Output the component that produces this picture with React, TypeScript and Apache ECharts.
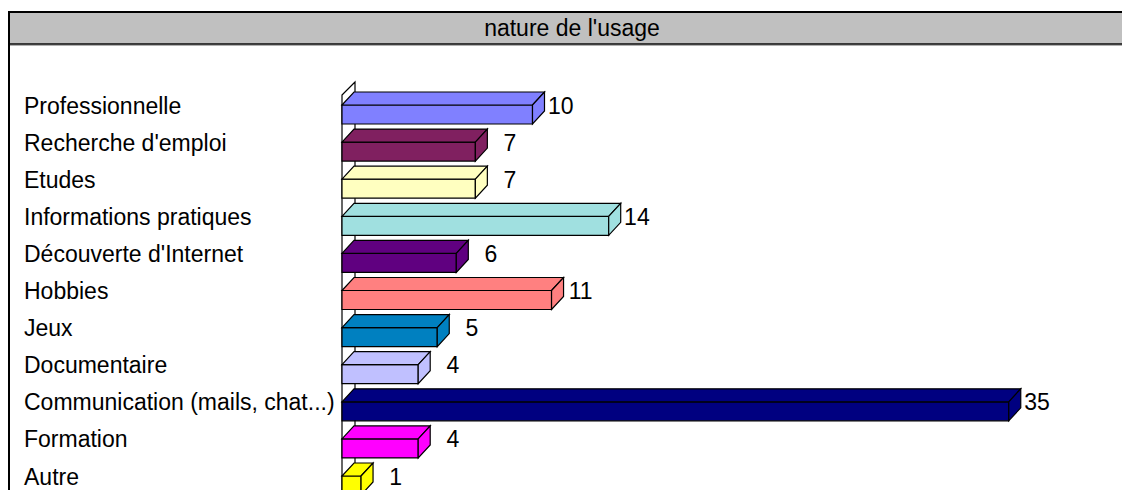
import React, { useEffect, useRef } from "react";
import * as echarts from "echarts";

const chartTitle = "nature de l'usage";
const categories = [
  "Professionnelle",
  "Recherche d'emploi",
  "Etudes",
  "Informations pratiques",
  "Découverte d'Internet",
  "Hobbies",
  "Jeux",
  "Documentaire",
  "Communication (mails, chat...)",
  "Formation",
  "Autre",
];
const values = [10, 7, 7, 14, 6, 11, 5, 4, 35, 4, 1];
const barColors = [
  "#8080FF",
  "#802060",
  "#FFFFC0",
  "#A0E0E0",
  "#600080",
  "#FF8080",
  "#0080C0",
  "#C0C0FF",
  "#000080",
  "#FF00FF",
  "#FFFF00",
];

const FONT = "'Liberation Sans', Arial, sans-serif";
const DX = 12;
const DY = 13;
const FRONT_H = 18.5;
const CHART_H = 520;

export default function App() {
  const ref = useRef<HTMLDivElement>(null);

  useEffect(() => {
    if (!ref.current) return;
    const chart = echarts.init(ref.current, undefined, { renderer: "svg" });

    const barData = values.map((v, i) => [v, i]);
    const gridTop = 86.95;
    const gridHeight = 408.1;

    const option: any = {
      animation: false,
      backgroundColor: "#ffffff",
      grid: {
        left: 342,
        right: 18,
        top: gridTop,
        bottom: CHART_H - gridTop - gridHeight,
        containLabel: false,
      },
      xAxis: {
        type: "value",
        min: 0,
        max: 40,
        show: false,
      },
      yAxis: {
        type: "category",
        inverse: true,
        data: categories,
        axisLine: { show: false },
        axisTick: { show: false },
        splitLine: { show: false },
        axisLabel: {
          align: "left",
          margin: 318,
          fontSize: 23,
          fontFamily: FONT,
          color: "#000000",
        },
      },
      graphic: [
        {
          type: "rect",
          shape: { x: 9, y: 12, width: 1200, height: 600 },
          style: { fill: "none", stroke: "#000000", lineWidth: 2 },
          silent: true,
        },
        {
          type: "rect",
          shape: { x: 10, y: 13, width: 1200, height: 30.5 },
          style: { fill: "#C0C0C0" },
          silent: true,
        },
        {
          type: "line",
          shape: { x1: 9, y1: 44, x2: 1130, y2: 44 },
          style: { stroke: "#000000", lineWidth: 1.5 },
          silent: true,
        },
        {
          type: "line",
          shape: { x1: 10, y1: 45.5, x2: 1130, y2: 45.5 },
          style: { stroke: "#B0B0B0", lineWidth: 1 },
          silent: true,
        },
        {
          type: "text",
          x: 572,
          y: 28,
          style: {
            text: chartTitle,
            fontSize: 23,
            fontFamily: FONT,
            fill: "#000000",
            textAlign: "center",
            textVerticalAlign: "middle",
          },
          silent: true,
        },
      ],
      series: [
        {
          type: "custom",
          name: "wall",
          z: 1,
          silent: true,
          data: [[0, 0]],
          encode: { x: 0, y: 1 },
          renderItem: (params: any, api: any) => {
            const p = api.coord([0, 0]);
            const x0 = p[0];
            const c = p[1];
            const bottom = CHART_H + 10;
            return {
              type: "polygon",
              shape: {
                points: [
                  [x0, c - 10.5],
                  [x0 + DX + 1, c - 23.5],
                  [x0 + DX + 1, bottom],
                  [x0, bottom],
                ],
              },
              style: { fill: "#ffffff", stroke: "#000000", lineWidth: 1.2 },
            };
          },
        },
        {
          type: "custom",
          name: "nature de l'usage",
          z: 2,
          data: barData,
          encode: { x: 0, y: 1 },
          renderItem: (params: any, api: any) => {
            const v = api.value(0);
            const idx = api.value(1);
            const end = api.coord([v, idx]);
            const start = api.coord([0, idx]);
            const x0 = start[0];
            const x1 = end[0];
            const c = end[1];
            const yt = c - 0.5;
            const yb = c + FRONT_H;
            const color = barColors[params.dataIndex % barColors.length];
            const st = { fill: color, stroke: "#000000", lineWidth: 1.2 };
            return {
              type: "group",
              children: [
                {
                  type: "polygon",
                  shape: { points: [[x0, yt], [x1, yt], [x1, yb], [x0, yb]] },
                  style: st,
                },
                {
                  type: "polygon",
                  shape: {
                    points: [
                      [x0, yt],
                      [x0 + DX, yt - DY],
                      [x1 + DX, yt - DY],
                      [x1, yt],
                    ],
                  },
                  style: st,
                },
                {
                  type: "polygon",
                  shape: {
                    points: [
                      [x1, yt],
                      [x1 + DX, yt - DY],
                      [x1 + DX, yb - DY],
                      [x1, yb],
                    ],
                  },
                  style: st,
                },
                {
                  type: "text",
                  x: x1 + 41,
                  y: c,
                  style: {
                    text: String(v),
                    fontSize: 23,
                    fontFamily: FONT,
                    fill: "#000000",
                    textAlign: "right",
                    textVerticalAlign: "middle",
                  },
                },
              ],
            };
          },
        },
      ],
    };

    chart.setOption(option);
    return () => {
      chart.dispose();
    };
  }, []);

  return (
    <div
      style={{
        position: "fixed",
        left: 0,
        top: 0,
        width: 1122,
        height: 490,
        overflow: "hidden",
        background: "#ffffff",
      }}
    >
      <div ref={ref} style={{ width: 1122, height: CHART_H }} />
    </div>
  );
}
